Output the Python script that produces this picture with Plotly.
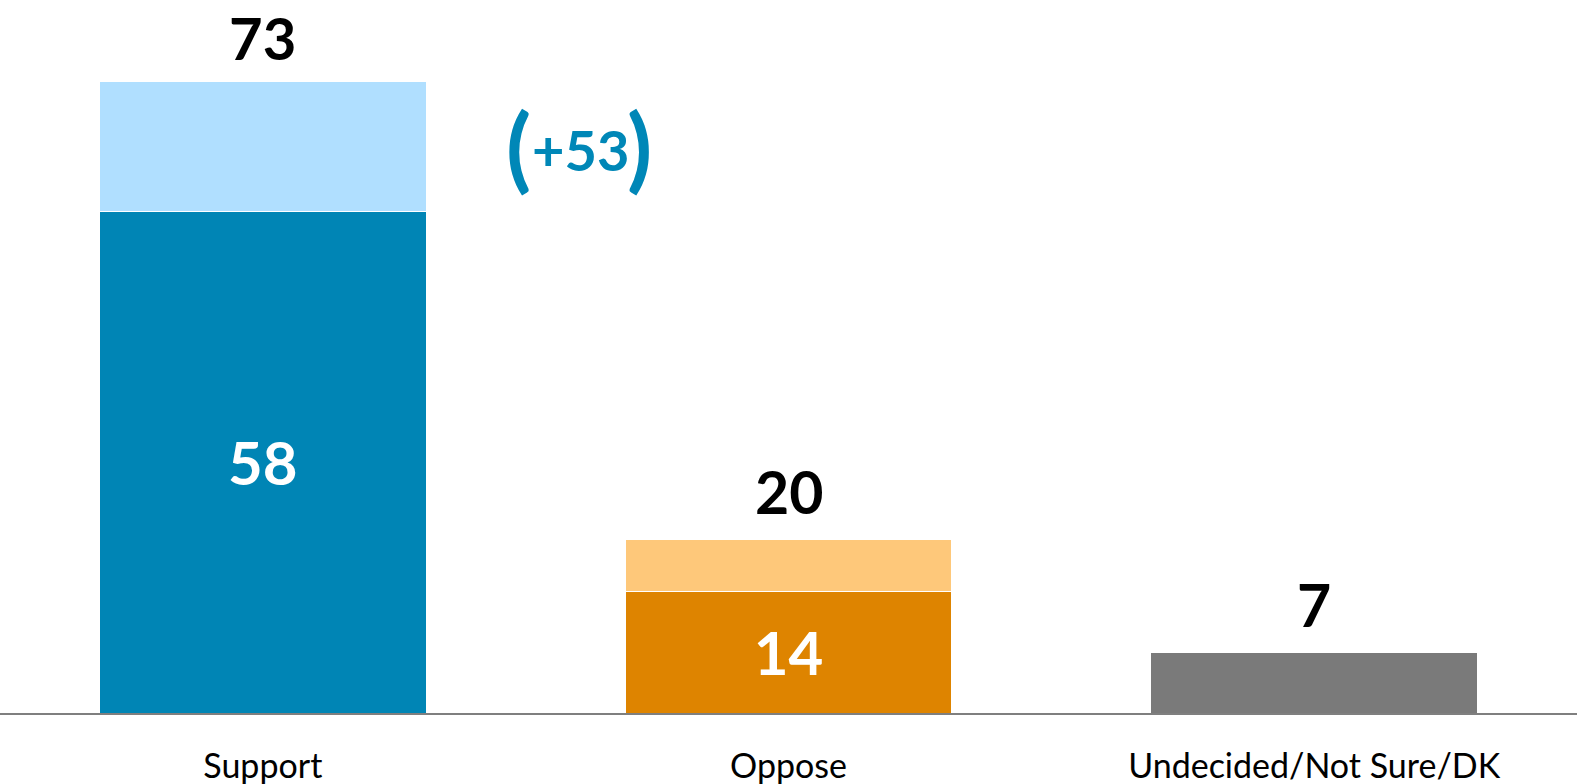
import plotly.graph_objects as go

categories = ["Support", "Oppose", "Undecided/Not Sure/DK"]
strong = [58, 14, 7]
somewhat = [15, 6, 0]
totals = [73, 20, 7]
net_label = "+53"

strong_colors = ["#0085B5", "#DE8400", "#7A7A7A"]
somewhat_colors = ["#B0DFFF", "#FEC87A", "#FFFFFF"]
NET_COLOR = "#0087B7"
FONT = "Lato"

fig = go.Figure()
fig.add_trace(go.Bar(
    x=categories, y=strong,
    marker=dict(color=strong_colors, line=dict(color="white", width=1)),
    text=[str(v) if i < 2 else "" for i, v in enumerate(strong)],
    textposition="inside", insidetextanchor="middle",
    textfont=dict(family=FONT, size=60, color="white", weight="bold"),
    hoverinfo="skip",
))
fig.add_trace(go.Bar(
    x=categories, y=somewhat,
    marker=dict(color=somewhat_colors, line=dict(color="white", width=1)),
    hoverinfo="skip",
))

# totals above each bar (the tallest one kept inside the top edge)
for cat, tot in zip(categories, totals):
    tallest = tot == max(totals)
    fig.add_annotation(
        x=cat, y=tot, text=str(tot), showarrow=False,
        yanchor="middle", yshift=44 if tallest else 48,
        font=dict(family=FONT, size=58 if tallest else 59,
                  color="black", weight="bold"),
    )

# net support callout with large brackets
NET_Y = 65.1
fig.add_annotation(
    x=0.605, y=NET_Y, xref="x", yref="y", showarrow=False,
    text=net_label, yanchor="middle",
    font=dict(family=FONT, size=56, color=NET_COLOR, weight="bold"),
)
for px, ch in ((0.487, "("), (0.716, ")")):
    fig.add_annotation(
        x=px, y=NET_Y, xref="x", yref="y", showarrow=False,
        text=ch, yanchor="middle", yshift=4,
        font=dict(family=FONT, size=92, color=NET_COLOR, weight="bold"),
    )

fig.update_layout(
    barmode="stack",
    bargap=0.378,
    width=1577, height=784,
    margin=dict(l=0, r=0, t=0, b=71),
    plot_bgcolor="white", paper_bgcolor="white",
    showlegend=False,
    xaxis=dict(
        showline=True, linecolor="#7F7F7F", linewidth=1.5,
        ticks="", showgrid=False,
        tickfont=dict(family=FONT, size=34, color="black"),
        ticklabelstandoff=22,
    ),
    yaxis=dict(range=[0, 82.4], visible=False, showgrid=False),
)

fig.write_html("out.html")
